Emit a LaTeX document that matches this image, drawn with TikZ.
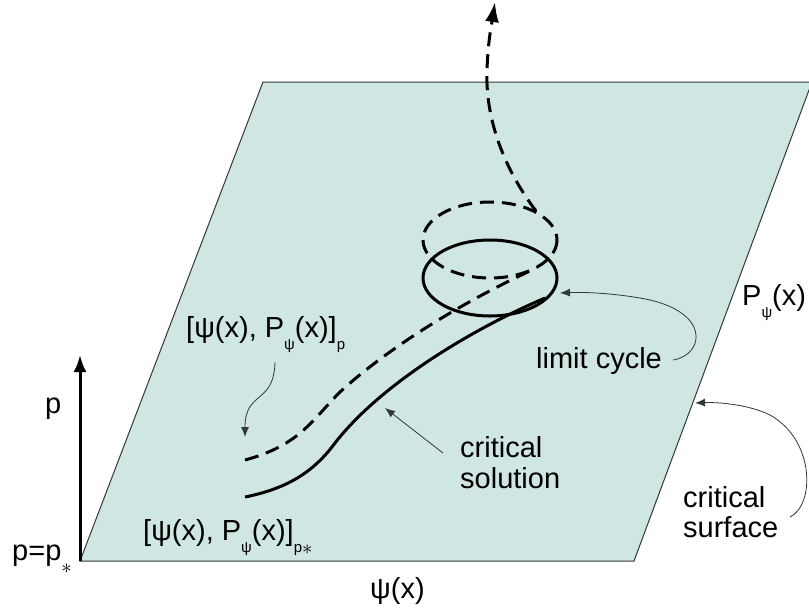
\documentclass[tikz,border=0pt]{standalone}
\usepackage{fontspec}
\setmainfont{Liberation Sans}
\usetikzlibrary{arrows.meta}
\definecolor{surf}{RGB}{207,230,227}
\definecolor{edge}{RGB}{50,55,55}
\newcommand\lowsub[1]{\raisebox{-12pt}{\fontsize{15}{15}\selectfont #1}}
\newcommand\bigstar{\raisebox{-13pt}{\fontsize{22}{22}\selectfont$\ast$}}
\tikzset{
  lbl/.style={anchor=base west, inner sep=0pt, font=\fontsize{29}{32}\selectfont},
  thick curve/.style={line width=3pt, line cap=butt},
  dashcurve/.style={line width=3pt, dash pattern=on 14pt off 8pt},
  pointer/.style={line width=0.8pt, draw=edge, -{Latex[length=10pt,width=8pt]}},
}
\begin{document}
\begin{tikzpicture}[x=1pt,y=-1pt]
\useasboundingbox (0,0) rectangle (809,614);
% critical surface
\coordinate (s1) at (263,82);
\coordinate (s2) at (812,82);
\coordinate (s3) at (634,561);
\coordinate (s4) at (80,561);
\filldraw[fill=surf, draw=edge, line width=1pt] (s1) -- (s2) -- (s3) -- (s4) -- cycle;
% p axis
\coordinate (ax0) at (80,561);
\coordinate (ax1) at (80,355);
\draw[line width=3pt, -{Latex[length=17pt,width=13pt]}] (ax0) -- (ax1);
% limit cycle ellipses
\draw[dashcurve] (490,240) ellipse [x radius=67, y radius=38];
\draw[thick curve] (490,278) ellipse [x radius=67, y radius=38];
% curves
\coordinate (d0) at (245,460);
\coordinate (d1) at (340,392);
\coordinate (d2) at (532,270);
\draw[dashcurve] (d0) .. controls (300,445) and (312,420) .. (d1) .. controls (380,355) and (450,308) .. (d2);
\coordinate (c0) at (245,497);
\coordinate (c1) at (335,443);
\coordinate (c2) at (545,298);
\draw[thick curve] (c0) .. controls (290,488) and (315,470) .. (c1) .. controls (380,385) and (470,330) .. (c2);
\coordinate (u0) at (536,211);
\coordinate (u1) at (487,70);
\coordinate (u2) at (495,2);
\draw[dashcurve, -{Latex[length=20pt,width=14pt]}] (u0) .. controls (505,170) and (485,120) .. (u1) .. controls (488,40) and (492,22) .. (u2);
% labels
\node[lbl] (lp) at (45,413) {p};
\node[lbl] (lpstar) at (12,560) {p=p\bigstar};
\node[lbl] (lpsi) at (370,598) {ψ(x)};
\node[lbl] (lP) at (742,305) {P\lowsub{ψ}(x)};
\node[lbl] (lcs1) at (683,507) {critical};
\node[lbl] (lcs2) at (683,537) {surface};
\node[lbl] (llc) at (536,368) {limit cycle};
\node[lbl] (lsol1) at (460,457) {critical};
\node[lbl] (lsol2) at (460,488) {solution};
\node[lbl] (lstp) at (186,337) {[ψ(x), P\lowsub{ψ}(x)]\lowsub{p}};
\node[lbl] (lstar) at (143,540) {[ψ(x), P\lowsub{ψ}(x)]\lowsub{p\raisebox{-2pt}{\fontsize{20}{20}\selectfont$\ast$}}};
% pointers
\coordinate (a1s) at (673,360);
\coordinate (a1e) at (560,293);
\draw[pointer] (a1s) .. controls (705,355) and (712,310) .. (640,298) .. controls (610,293) and (585,292) .. (a1e);
\coordinate (a2s) at (790,517);
\coordinate (a2e) at (695,403);
\draw[pointer] (a2s) .. controls (815,505) and (815,440) .. (770,415) .. controls (750,405) and (720,402) .. (a2e);
\coordinate (a3s) at (443,453);
\coordinate (a3e) at (385,408);
\draw[pointer] (a3s) -- (a3e);
\coordinate (a4s) at (275,362);
\coordinate (a4e) at (245,437);
\draw[pointer] (a4s) .. controls (274,405) and (245,390) .. (a4e);
\end{tikzpicture}
\end{document}
